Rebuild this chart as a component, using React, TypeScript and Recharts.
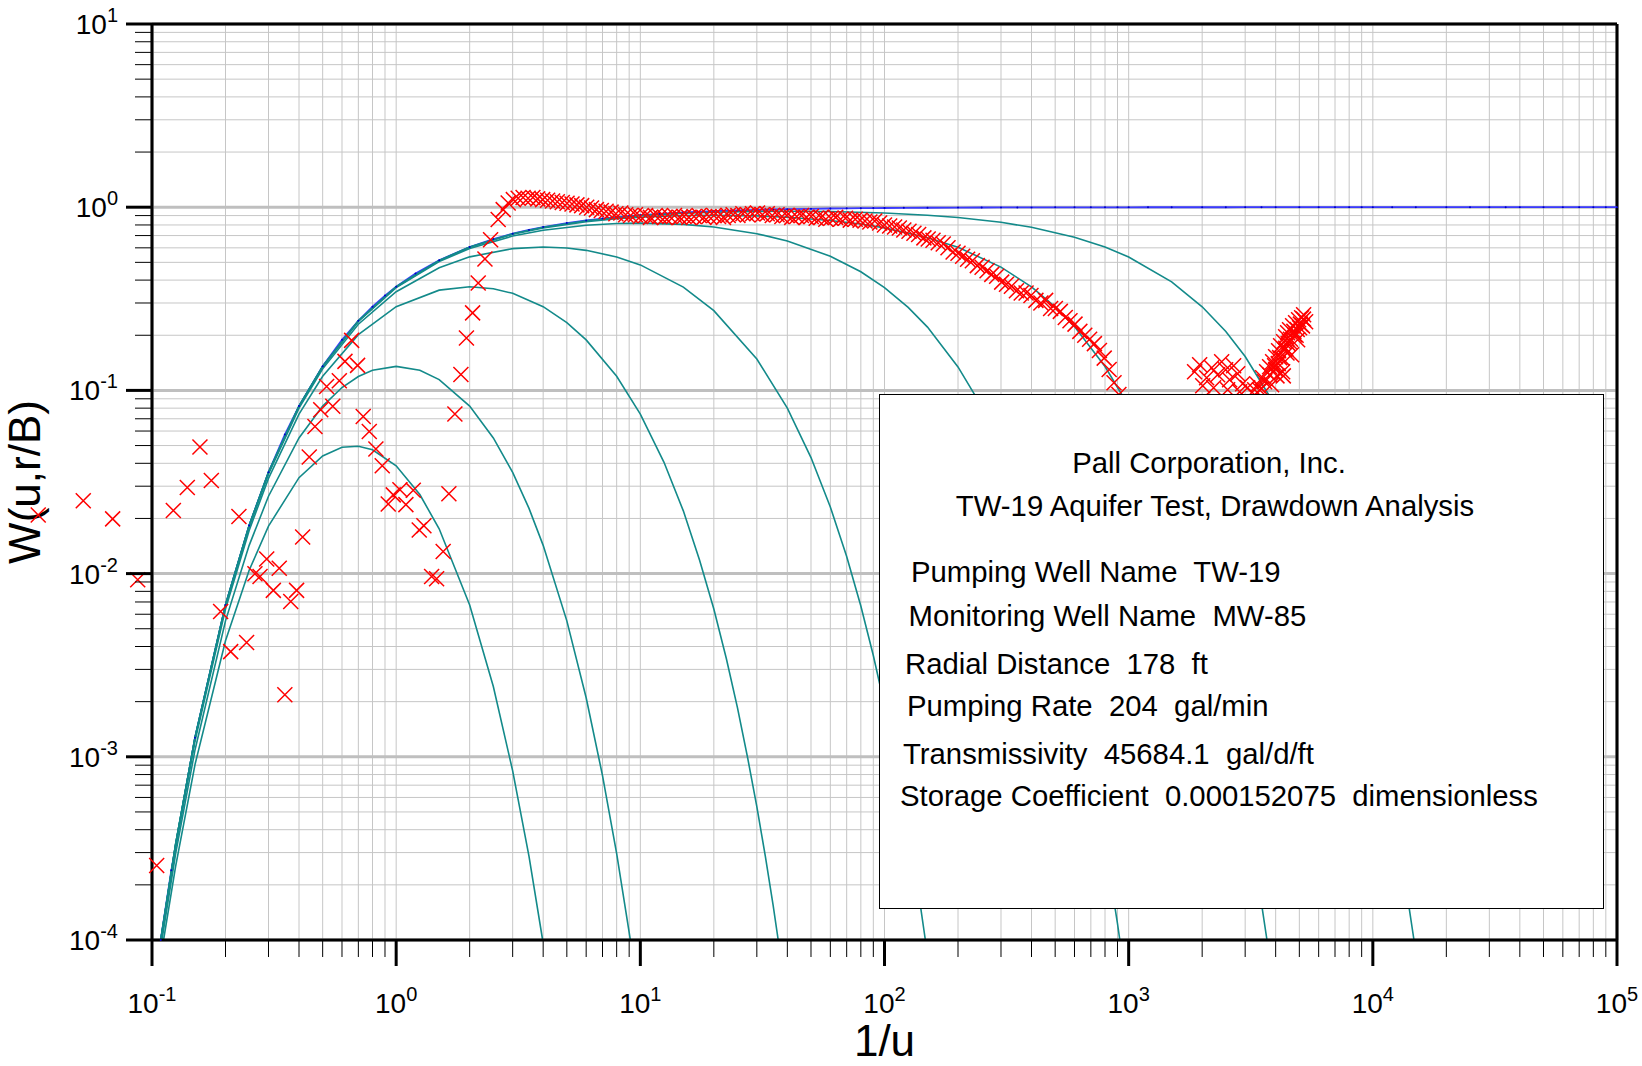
import React from 'react';
import {
  ComposedChart,
  Line,
  Scatter,
  XAxis,
  YAxis,
  CartesianGrid,
  ReferenceLine,
  ReferenceDot,
} from 'recharts';

const FONT = '"Liberation Sans", Arial, Helvetica, sans-serif';
const TEAL = '#138a8a';

// axis decades and minor steps
const X_MAJOR = [0.1, 1, 10, 100, 1000, 10000, 100000];
const Y_MAJOR = [0.0001, 0.001, 0.01, 0.1, 1, 10];
const MINOR_STEPS = [2, 3, 4, 5, 6, 7, 8, 9];

// Theis type curve (r/B = 0), drawn in blue
const theis = [
  [0.1086, 1e-4], [0.12, 2.4e-4], [0.15, 1.27e-3], [0.2, 6.74e-3], [0.25, 0.0183], [0.3, 0.0357],
  [0.35, 0.0574], [0.4, 0.0821], [0.5, 0.1353], [0.6, 0.1889], [0.7, 0.2397], [0.8, 0.2865],
  [0.9, 0.3292], [1, 0.3679], [1.2, 0.4346], [1.5, 0.5134], [2, 0.6065], [2.5, 0.6703], [3, 0.7165],
  [3.5, 0.7515], [4, 0.7788], [5, 0.8187], [6, 0.8465], [7, 0.8669], [8, 0.8825], [9, 0.8948],
  [10, 0.9048], [12, 0.92], [15, 0.9355], [20, 0.9512], [25, 0.9608], [30, 0.9672], [35, 0.9718],
  [40, 0.9753], [50, 0.9802], [60, 0.9835], [70, 0.9858], [80, 0.9876], [90, 0.989], [100, 0.99],
  [120, 0.9917], [150, 0.9934], [200, 0.995], [250, 0.996], [300, 0.9967], [350, 0.9971],
  [400, 0.9975], [500, 0.998], [600, 0.9983], [700, 0.9986], [800, 0.9988], [900, 0.9989],
  [1000, 0.999], [1200, 0.9992], [1500, 0.9993], [2000, 0.9995], [2500, 0.9996], [3000, 0.9997],
  [3500, 0.9997], [4000, 0.9998], [5000, 0.9998], [6000, 0.9998], [7000, 0.9999], [8000, 0.9999],
  [9000, 0.9999], [10000, 0.9999], [12000, 1], [15000, 1], [20000, 1], [25000, 1], [30000, 1],
  [35000, 1], [40000, 1], [50000, 1], [60000, 1], [70000, 1], [80000, 1], [90000, 1], [100000, 1],
];

// leaky type curves, r/B = 0.05 ... 3
const leaky005 = [
  [0.1086, 1e-4], [0.125, 3.35e-4], [0.15, 1.27e-3], [0.2, 6.74e-3], [0.25, 0.0183], [0.3, 0.0357],
  [0.4, 0.0821], [0.5, 0.1352], [0.7, 0.24], [1, 0.368], [1.5, 0.512], [2, 0.606], [3, 0.716],
  [4, 0.777], [6, 0.843], [8, 0.876], [10, 0.899], [15, 0.927], [20, 0.939], [30, 0.949], [40, 0.951],
  [60, 0.947], [100, 0.93], [150, 0.904], [200, 0.878], [300, 0.827], [400, 0.777], [600, 0.686],
  [800, 0.606], [1000, 0.535], [1500, 0.391], [2000, 0.286], [2500, 0.2096], [3000, 0.153],
  [4000, 0.0821], [5000, 0.0439], [6000, 0.0235], [7000, 0.0126], [8000, 6.74e-3], [9000, 3.61e-3],
  [10000, 1.93e-3], [11000, 1.03e-3], [12000, 5.53e-4], [13000, 2.96e-4], [14000, 1.58e-4],
  [14740, 1e-4],
];
const leaky01 = [
  [0.1086, 1e-4], [0.125, 3.35e-4], [0.15, 1.27e-3], [0.2, 6.74e-3], [0.25, 0.0183], [0.3, 0.0357],
  [0.4, 0.082], [0.5, 0.135], [0.7, 0.2396], [1, 0.367], [1.5, 0.511], [2, 0.604], [3, 0.712],
  [4, 0.771], [6, 0.833], [8, 0.865], [10, 0.882], [15, 0.901], [20, 0.904], [30, 0.897], [40, 0.882],
  [60, 0.846], [80, 0.809], [100, 0.771], [150, 0.682], [200, 0.604], [300, 0.471], [400, 0.367],
  [500, 0.286], [600, 0.223], [800, 0.135], [1000, 0.082], [1250, 0.0439], [1500, 0.0235],
  [1750, 0.0126], [2000, 6.74e-3], [2250, 3.61e-3], [2500, 1.93e-3], [2750, 1.03e-3],
  [3000, 5.53e-4], [3250, 2.96e-4], [3500, 1.58e-4], [3685, 1e-4],
];
const leaky02 = [
  [0.1086, 1e-4], [0.125, 3.35e-4], [0.15, 1.27e-3], [0.2, 6.73e-3], [0.25, 0.0183], [0.3, 0.0356],
  [0.4, 0.0818], [0.5, 0.1346], [0.7, 0.238], [1, 0.364], [1.5, 0.505], [2, 0.595], [3, 0.696],
  [4, 0.748], [6, 0.797], [8, 0.814], [10, 0.819], [15, 0.806], [20, 0.779], [30, 0.717], [40, 0.654],
  [60, 0.54], [80, 0.444], [100, 0.364], [125, 0.284], [150, 0.2215], [200, 0.1343], [250, 0.0818],
  [300, 0.0496], [350, 0.0301], [400, 0.0183], [500, 6.73e-3], [600, 2.48e-3], [700, 9.1e-4],
  [800, 3.35e-4], [900, 1.23e-4], [920, 1e-4],
];
const leaky05 = [
  [0.1087, 1e-4], [0.125, 3.32e-4], [0.15, 1.26e-3], [0.2, 6.66e-3], [0.25, 0.018], [0.3, 0.035],
  [0.4, 0.0801], [0.5, 0.1311], [0.7, 0.2297], [1, 0.3456], [1.5, 0.467], [2, 0.5357], [3, 0.594],
  [4, 0.6065], [5, 0.599], [6, 0.5815], [8, 0.535], [10, 0.4843], [15, 0.3665], [20, 0.2725],
  [30, 0.1484], [40, 0.08], [50, 0.043], [60, 0.0231], [70, 0.0124], [80, 6.66e-3], [90, 3.57e-3],
  [100, 1.91e-3], [110, 1.02e-3], [120, 5.48e-4], [130, 2.94e-4], [140, 1.57e-4], [147, 1e-4],
];
const leaky1 = [
  [0.1089, 1e-4], [0.125, 3.25e-4], [0.15, 1.22e-3], [0.2, 6.41e-3], [0.25, 0.0172], [0.3, 0.0331],
  [0.4, 0.0743], [0.5, 0.1194], [0.7, 0.2015], [1, 0.2865], [1.5, 0.3526], [2, 0.3679], [2.5, 0.3587],
  [3, 0.3387], [4, 0.2865], [5, 0.2346], [6, 0.1887], [8, 0.1194], [10, 0.0743], [12.5, 0.0405],
  [15, 0.022], [17.5, 0.0118], [20, 6.41e-3], [22.5, 3.44e-3], [25, 1.85e-3], [27.5, 9.9e-4],
  [30, 5.35e-4], [32.5, 2.87e-4], [35, 1.54e-4], [36.7, 1e-4],
];
const leaky2 = [
  [0.1098, 1e-4], [0.125, 2.96e-4], [0.15, 1.09e-3], [0.2, 5.52e-3], [0.25, 0.01426], [0.3, 0.02645],
  [0.4, 0.055], [0.5, 0.0821], [0.6, 0.1037], [0.7, 0.119], [0.8, 0.1287], [1, 0.1353], [1.25, 0.1287],
  [1.5, 0.1145], [2, 0.0821], [2.5, 0.055], [3, 0.0357], [3.5, 0.0227], [4, 0.01426], [5, 5.52e-3],
  [6, 2.1e-3], [7, 7.9e-4], [8, 2.96e-4], [9, 1.1e-4], [9.1, 1e-4],
];
const leaky3 = [
  [0.1115, 1e-4], [0.125, 2.53e-4], [0.15, 9.07e-4], [0.2, 4.3e-3], [0.25, 0.01043], [0.3, 0.01817],
  [0.4, 0.0334], [0.5, 0.0439], [0.6, 0.0489], [0.7, 0.0496], [0.8, 0.0474], [1, 0.0388],
  [1.25, 0.027], [1.5, 0.01757], [2, 6.74e-3], [2.5, 2.42e-3], [3, 8.38e-4], [3.5, 2.86e-4],
  [3.98, 1e-4],
];

// observed drawdown, early scatter (inside the axes)
const earlyObs = [
  [0.1045, 2.55e-4], [0.1223, 0.0221], [0.1395, 0.0295], [0.1572, 0.0491], [0.175, 0.0322],
  [0.191, 0.00621], [0.21, 0.00375], [0.227, 0.0205], [0.244, 0.00421], [0.264, 0.00997],
  [0.277, 0.00964], [0.295, 0.012], [0.314, 0.0081], [0.332, 0.0107], [0.35, 0.00218],
  [0.37, 0.00705], [0.391, 0.0081], [0.414, 0.01583], [0.4406, 0.0433], [0.465, 0.0636],
  [0.491, 0.0785], [0.519, 0.105], [0.55, 0.0819], [0.585, 0.113], [0.617, 0.144], [0.657, 0.1875],
  [0.695, 0.137], [0.733, 0.0721], [0.776, 0.0597], [0.826, 0.0479], [0.877, 0.0388],
  [0.928, 0.024], [0.973, 0.0269], [1.036, 0.0287], [1.096, 0.0238], [1.175, 0.0285],
  [1.243, 0.0173], [1.299, 0.01824], [1.397, 0.00964], [1.464, 0.00937], [1.558, 0.0132],
  [1.644, 0.0273], [1.74, 0.0743], [1.841, 0.122], [1.94, 0.193], [2.056, 0.265], [2.168, 0.386],
  [2.31, 0.522], [2.436, 0.665], [2.617, 0.856], [2.744, 0.97], [2.876, 1.055],
];

// observed drawdown left of the first decade (plotted beyond the axis)
const outsideObs = [
  [0.0342, 0.0209], [0.0523, 0.025], [0.069, 0.0199], [0.0874, 0.00925],
];

// observed drawdown, dense middle band
const bandObs = [
  [3.02, 1.1], [3.16, 1.12], [3.31, 1.13], [3.47, 1.12], [3.63, 1.13], [3.8, 1.11], [3.98, 1.1],
  [4.17, 1.09], [4.37, 1.08], [4.57, 1.07], [4.79, 1.06], [5.01, 1.05], [5.25, 1.04], [5.5, 1.03],
  [5.75, 1.02], [6.03, 1.0], [6.31, 0.99], [6.61, 0.97], [6.92, 0.96], [7.24, 0.95], [7.59, 0.94],
  [7.94, 0.92], [8.32, 0.93], [8.71, 0.91], [9.12, 0.9], [9.55, 0.91], [10.0, 0.89], [10.5, 0.9],
  [11.0, 0.88], [11.5, 0.9], [12.0, 0.89], [12.6, 0.88], [13.2, 0.89], [13.8, 0.9], [14.5, 0.88],
  [15.1, 0.89], [15.8, 0.88], [16.6, 0.89], [17.4, 0.9], [18.2, 0.88], [19.1, 0.89], [20.0, 0.9],
  [20.9, 0.89], [21.9, 0.88], [22.9, 0.9], [24.0, 0.91], [25.1, 0.9], [26.3, 0.92], [27.5, 0.91],
  [28.8, 0.92], [30.2, 0.93], [31.6, 0.91], [33.1, 0.92], [34.7, 0.9], [36.3, 0.91], [38.0, 0.89],
  [39.8, 0.9], [41.7, 0.88], [43.7, 0.89], [45.7, 0.9], [47.9, 0.88], [50.1, 0.89], [52.5, 0.87],
  [55.0, 0.88], [57.5, 0.86], [60.3, 0.87], [63.1, 0.88], [66.1, 0.86], [69.2, 0.87], [72.4, 0.85],
  [75.9, 0.86], [79.4, 0.85], [83.2, 0.84], [87.1, 0.83], [91.2, 0.84], [95.5, 0.82], [100, 0.8],
  [105, 0.79], [110, 0.78], [115, 0.77], [120, 0.75], [126, 0.74], [132, 0.72], [138, 0.71],
  [145, 0.68], [151, 0.67], [158, 0.66], [166, 0.64], [174, 0.63], [182, 0.6], [191, 0.57],
  [200, 0.56], [209, 0.54], [219, 0.52], [229, 0.51], [240, 0.48], [251, 0.47], [263, 0.45],
  [275, 0.43], [288, 0.42], [302, 0.39], [316, 0.38], [331, 0.37], [347, 0.35], [363, 0.34],
  [380, 0.34], [398, 0.33], [417, 0.31], [437, 0.3], [457, 0.31], [479, 0.28], [501, 0.28],
  [525, 0.27], [550, 0.25], [575, 0.24], [603, 0.23], [631, 0.21], [661, 0.2], [692, 0.19],
  [724, 0.18], [759, 0.165], [794, 0.15], [832, 0.13], [871, 0.11], [912, 0.095], [950, 0.08],
];

// observed drawdown, late cluster
const lateObs = [
  [1862, 0.1265], [1953, 0.1382], [2010, 0.1061], [2086, 0.1173], [2188, 0.133], [2228, 0.1034],
  [2314, 0.1218], [2403, 0.1435], [2495, 0.1297], [2543, 0.1009], [2591, 0.1144], [2691, 0.1364],
  [2795, 0.1234], [2848, 0.0984], [2930, 0.1088], [3070, 0.1034], [3281, 0.1009], [3375, 0.1074],
  [3438, 0.1009], [3504, 0.1021], [3537, 0.1173], [3605, 0.1115], [3673, 0.1265], [3778, 0.1347],
  [3778, 0.1218], [3850, 0.1074], [3887, 0.1435], [3961, 0.1364], [3998, 0.1528], [4000, 0.13],
  [4050, 0.12], [4100, 0.14], [4113, 0.1647], [4152, 0.151], [4191, 0.1754], [4250, 0.15],
  [4271, 0.1265], [4300, 0.12], [4312, 0.1845], [4352, 0.1669], [4394, 0.1965], [4400, 0.17],
  [4450, 0.16], [4477, 0.2066], [4500, 0.18], [4560, 0.2145], [4560, 0.1845], [4600, 0.19],
  [4649, 0.1566], [4693, 0.2256], [4750, 0.21], [4782, 0.2014], [4827, 0.234], [4850, 0.2],
  [4900, 0.215], [4920, 0.1891], [4966, 0.243], [5012, 0.22], [5050, 0.23], [5109, 0.2495],
  [5150, 0.225], [5200, 0.245], [5206, 0.259], [5305, 0.237],
];

const BOX_TITLE = ['Pall Corporation, Inc.', 'TW-19 Aquifer Test, Drawdown Analysis'];
const BOX_LINES = [
  'Pumping Well Name  TW-19',
  'Monitoring Well Name  MW-85',
  'Radial Distance  178  ft',
  'Pumping Rate  204  gal/min',
  'Transmissivity  45684.1  gal/d/ft',
  'Storage Coefficient  0.000152075  dimensionless',
];

const pts = (a: number[][]) => a.map(([x, y]) => ({ x, y }));
const withMinors = (majors: number[]) =>
  majors.flatMap((m, i) =>
    i < majors.length - 1 ? [m, ...MINOR_STEPS.map((s) => +(m * s).toPrecision(6))] : [m]
  );
const X_TICKS = withMinors(X_MAJOR);
const Y_TICKS = withMinors(Y_MAJOR);

const isMajor = (v: number) => Math.abs(Math.log10(v) - Math.round(Math.log10(v))) < 1e-6;
const expo = (v: number) => String(Math.round(Math.log10(v)));

function XTick(props: any) {
  const { x, y, payload } = props;
  const v = payload.value;
  const major = isMajor(v);
  return (
    <g>
      <line x1={x} x2={x} y1={y} y2={y + (major ? 26 : 17)} stroke="#000" strokeWidth={major ? 3 : 1} />
      {major && (
        <text x={x} y={y + 73} textAnchor="middle" fontSize={28} fill="#000" fontFamily={FONT}>
          10
          <tspan fontSize={20} dy={-12}>
            {expo(v)}
          </tspan>
        </text>
      )}
    </g>
  );
}

function YTick(props: any) {
  const { x, y, payload } = props;
  const v = payload.value;
  const major = isMajor(v);
  return (
    <g>
      <line x1={x - (major ? 26 : 17)} x2={x} y1={y} y2={y} stroke="#000" strokeWidth={major ? 3 : 1} />
      {major && (
        <text x={x - 34} y={y + 10} textAnchor="end" fontSize={28} fill="#000" fontFamily={FONT}>
          10
          <tspan fontSize={20} dy={-12}>
            {expo(v)}
          </tspan>
        </text>
      )}
    </g>
  );
}

function XTitle(props: any) {
  const vb = props.viewBox || { x: 152, y: 940, width: 1465, height: 126 };
  return (
    <text x={vb.x + vb.width / 2} y={vb.y + 116} textAnchor="middle" fontSize={44} fill="#000" fontFamily={FONT}>
      1/u
    </text>
  );
}

function YTitle(props: any) {
  const vb = props.viewBox || { x: 0, y: 24, width: 152, height: 916 };
  const cy = vb.y + vb.height / 2;
  return (
    <text x={40} y={cy} transform={`rotate(-90 40 ${cy})`} textAnchor="middle" fontSize={44} fill="#000" fontFamily={FONT}>
      W(u,r/B)
    </text>
  );
}

function XMark(props: any) {
  const { cx, cy } = props;
  if (cx == null || cy == null || isNaN(cx) || isNaN(cy)) return null;
  const s = 7.5;
  return (
    <path
      d={`M${cx - s},${cy - s}L${cx + s},${cy + s}M${cx - s},${cy + s}L${cx + s},${cy - s}`}
      stroke="#ff0000"
      strokeWidth={1.5}
      fill="none"
    />
  );
}

const curves = [leaky005, leaky01, leaky02, leaky05, leaky1, leaky2, leaky3];

export default function App() {
  return (
    <div style={{ position: 'absolute', left: 0, top: 0, width: 1642, height: 1066, background: '#fff' }}>
      <ComposedChart width={1642} height={1066} margin={{ top: 24, right: 25, bottom: 0, left: 0 }}>
        <CartesianGrid stroke="#c6c6c6" strokeWidth={1} />
        <CartesianGrid xAxisId="major" yAxisId="major" stroke="#bfbfbf" strokeWidth={3} />
        <XAxis
          type="number"
          dataKey="x"
          scale="log"
          domain={[0.1, 100000]}
          ticks={X_TICKS}
          interval={0}
          tickSize={0}
          tickMargin={0}
          tickLine={false}
          tick={(p: any) => <XTick {...p} />}
          axisLine={{ stroke: '#000', strokeWidth: 3 }}
          height={126}
          label={<XTitle />}
        />
        <XAxis
          xAxisId="major"
          type="number"
          scale="log"
          domain={[0.1, 100000]}
          allowDataOverflow
          ticks={X_MAJOR}
          interval={0}
          hide
        />
        <YAxis
          type="number"
          dataKey="y"
          scale="log"
          domain={[0.0001, 10]}
          ticks={Y_TICKS}
          interval={0}
          tickSize={0}
          tickMargin={0}
          tickLine={false}
          tick={(p: any) => <YTick {...p} />}
          axisLine={{ stroke: '#000', strokeWidth: 3 }}
          width={152}
          label={<YTitle />}
        />
        <YAxis
          yAxisId="major"
          type="number"
          scale="log"
          domain={[0.0001, 10]}
          allowDataOverflow
          ticks={Y_MAJOR}
          interval={0}
          hide
        />
        <ReferenceLine y={10} stroke="#000" strokeWidth={3} />
        <ReferenceLine x={100000} stroke="#000" strokeWidth={3} />
        <Line
          data={pts(theis)}
          dataKey="y"
          type="linear"
          stroke="#3a3aff"
          strokeWidth={1.8}
          dot={{ r: 1, fill: '#0000c8', stroke: 'none' }}
          isAnimationActive={false}
        />
        {curves.map((c, i) => (
          <Line
            key={i}
            data={pts(c)}
            dataKey="y"
            type="linear"
            stroke={TEAL}
            strokeWidth={1.6}
            dot={false}
            isAnimationActive={false}
          />
        ))}
        <Scatter data={pts(earlyObs)} dataKey="y" shape={(p: any) => <XMark {...p} />} isAnimationActive={false} />
        <Scatter data={pts(bandObs)} dataKey="y" shape={(p: any) => <XMark {...p} />} isAnimationActive={false} />
        <Scatter data={pts(lateObs)} dataKey="y" shape={(p: any) => <XMark {...p} />} isAnimationActive={false} />
        {outsideObs.map(([x, y], i) => (
          <ReferenceDot key={'o' + i} x={x} y={y} ifOverflow="visible" shape={(p: any) => <XMark {...p} />} />
        ))}
      </ComposedChart>
      <svg width={1642} height={1066} style={{ position: 'absolute', left: 0, top: 0, pointerEvents: 'none' }}>
        <rect x={879.5} y={394.5} width={724} height={514} fill="#fff" stroke="#000" strokeWidth={1} />
        <text x={1209} y={473} textAnchor="middle" fontSize={29.3} fontFamily={FONT} fill="#000">
          {BOX_TITLE[0]}
        </text>
        <text x={1215} y={516} textAnchor="middle" fontSize={29.3} fontFamily={FONT} fill="#000">
          {BOX_TITLE[1]}
        </text>
        {BOX_LINES.map((t, i) => {
          const pos = [
            [911, 582],
            [908.5, 626],
            [905, 674],
            [907, 716],
            [903, 764],
            [900, 806],
          ][i];
          return (
            <text key={i} x={pos[0]} y={pos[1]} fontSize={29.3} fontFamily={FONT} fill="#000" style={{ whiteSpace: 'pre' }}>
              {t}
            </text>
          );
        })}
      </svg>
    </div>
  );
}
